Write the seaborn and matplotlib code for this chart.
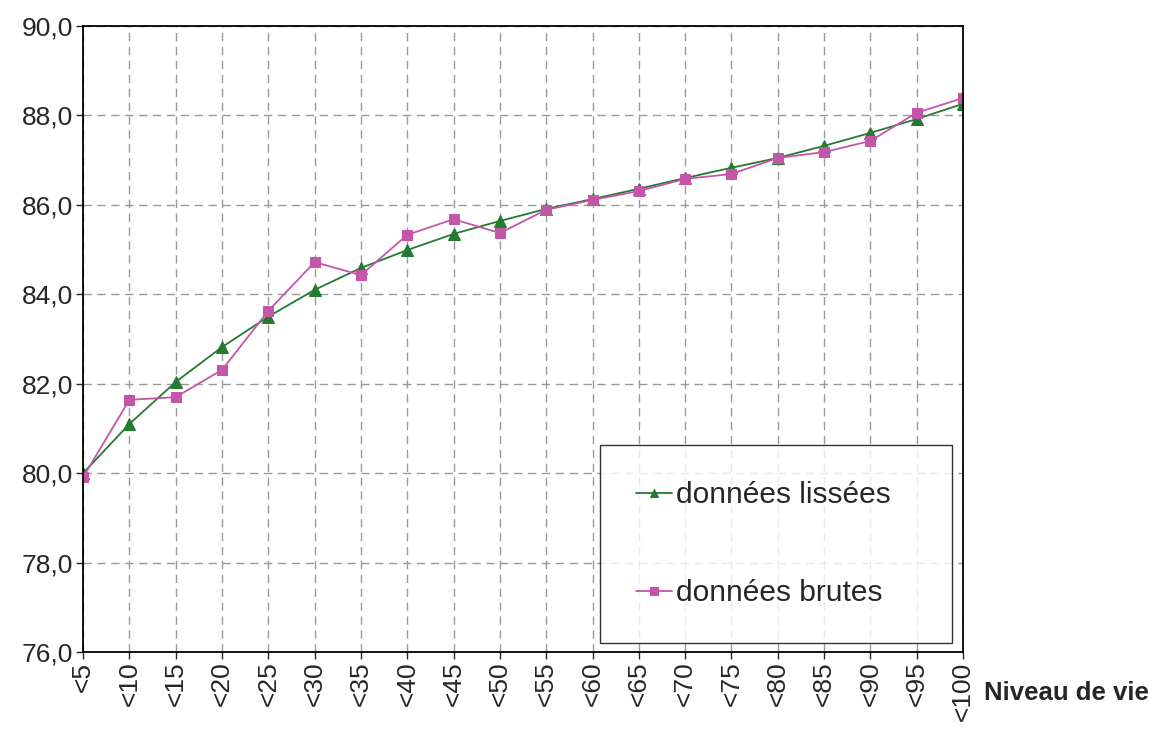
import pandas as pd
import matplotlib
matplotlib.use("Agg")
import matplotlib.pyplot as plt
import matplotlib.ticker as mticker
import seaborn as sns

categories = ["<5", "<10", "<15", "<20", "<25", "<30", "<35", "<40", "<45", "<50",
              "<55", "<60", "<65", "<70", "<75", "<80", "<85", "<90", "<95", "<100"]
lissees = [80.00, 81.10, 82.04, 82.82, 83.50, 84.10, 84.59, 84.99, 85.35, 85.64,
           85.91, 86.13, 86.36, 86.60, 86.83, 87.05, 87.32, 87.61, 87.92, 88.26]
brutes = [79.91, 81.64, 81.70, 82.31, 83.63, 84.72, 84.43, 85.33, 85.68, 85.37,
          85.89, 86.11, 86.31, 86.58, 86.69, 87.05, 87.18, 87.43, 88.06, 88.39]

green = "#237A30"
pink = "#C455A8"

sns.set_style("white")
plt.rcParams["font.family"] = ["Liberation Sans", "DejaVu Sans"]

fig, ax = plt.subplots(figsize=(11.54, 7.29), dpi=100)
fig.subplots_adjust(left=0.072, right=0.8345, top=0.9643, bottom=0.1056)

df = pd.DataFrame({"Niveau": categories, "lissees": lissees, "brutes": brutes})

sns.lineplot(data=df, x="Niveau", y="lissees", sort=False, color=green, marker="^",
             markersize=8, markeredgecolor=green, linewidth=1.3, label="données lissées", ax=ax)
sns.lineplot(data=df, x="Niveau", y="brutes", sort=False, color=pink, marker="s",
             markersize=7, markeredgecolor=pink, linewidth=1.3, label="données brutes", ax=ax)

ax.set_xlim(0, len(categories) - 1)
ax.set_ylim(76, 90)
ax.yaxis.set_major_locator(mticker.MultipleLocator(2))
ax.yaxis.set_major_formatter(mticker.FuncFormatter(lambda v, p: f"{v:.1f}".replace(".", ",")))
ax.grid(True, linestyle=(0, (6, 4)), color="#999999", linewidth=1)
for s in ax.spines.values():
    s.set_color("black")
    s.set_linewidth(1.3)

ax.tick_params(axis="y", labelsize=19, length=5, direction="out", left=True, width=1, pad=2)
ax.tick_params(axis="x", labelsize=19, length=5, direction="out", bottom=True, rotation=90,
               width=1, pad=2)
ax.set_xlabel("")
ax.set_ylabel("")
fig.text(0.853, 0.050, "Niveau de vie", fontsize=18.5, fontweight="bold", ha="left", va="center")

leg = ax.legend(loc="lower left", bbox_to_anchor=(0.5875, 0.014, 0.40, 0.317), mode="expand",
                fontsize=21.5, frameon=True, fancybox=False, edgecolor="black",
                labelspacing=2.35, borderpad=1.2, handlelength=1.2, handletextpad=0.15,
                borderaxespad=0, markerscale=0.8, alignment="center")
leg.get_frame().set_linewidth(1)

fig.savefig("out.png", dpi=100)
